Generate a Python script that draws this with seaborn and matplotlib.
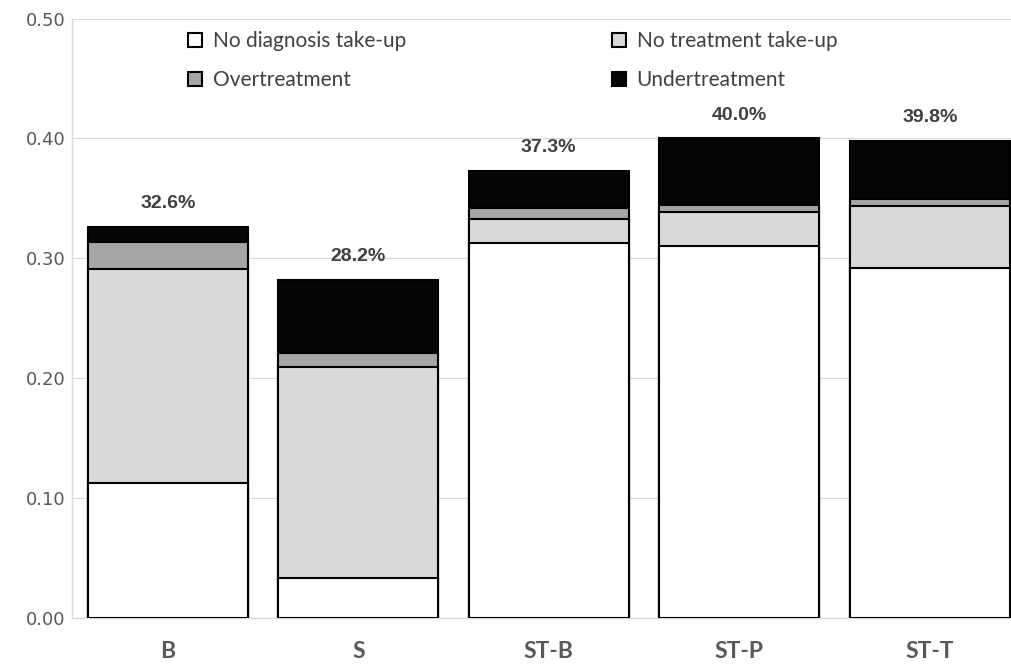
import matplotlib
matplotlib.use('Agg')
import matplotlib.pyplot as plt
from matplotlib.patches import Patch
import seaborn as sns
import pandas as pd
import numpy as np

# values
scenarios = ['B', 'S', 'ST-B', 'ST-P', 'ST-T']
no_diagnosis = [0.1125, 0.033, 0.313, 0.310, 0.2915]
no_treatment = [0.1788, 0.1765, 0.0196, 0.0283, 0.0523]
overtreatment = [0.0221, 0.0112, 0.0096, 0.0064, 0.0054]
undertreatment = [0.0126, 0.0613, 0.0308, 0.0553, 0.0488]

series_names = ['No diagnosis take-up', 'No treatment take-up', 'Overtreatment', 'Undertreatment']
series_colors = ['#ffffff', '#d9d9d9', '#a6a6a6', '#050505']

sns.set_theme(style='white')
plt.rcParams['font.family'] = ['Lato', 'DejaVu Sans']

df = pd.DataFrame({'scenario': scenarios,
                   'No diagnosis take-up': no_diagnosis,
                   'No treatment take-up': no_treatment,
                   'Overtreatment': overtreatment,
                   'Undertreatment': undertreatment})
# cumulative heights so the bars can be layered from the top down
cum = df[series_names].cumsum(axis=1)
cum['scenario'] = df['scenario']

fig = plt.figure(figsize=(10.11, 6.65), dpi=100)
ax = fig.add_axes([0.0717, 0.0711, 0.9283, 0.9009])

for name, color in reversed(list(zip(series_names, series_colors))):
    sns.barplot(data=cum, x='scenario', y=name, color=color, width=0.84,
                edgecolor='black', linewidth=1.5, saturation=1, ax=ax, zorder=3)

totals = cum['Undertreatment'].values
for i, t in enumerate(totals):
    ax.text(i, t + 0.0195, '{:.1%}'.format(t), ha='center', va='center',
            fontsize=14, fontweight='bold', color='#404040',
            family=['Liberation Sans', 'DejaVu Sans'])

ax.set_ylim(0, 0.5)
ax.set_xlim(-0.5, 4.4265)
ax.set_yticks(np.arange(0, 0.51, 0.1))
ax.set_yticklabels(['{:.2f}'.format(v) for v in np.arange(0, 0.51, 0.1)],
                   family=['DejaVu Sans'], fontsize=13, color='#595959')
ax.set_xlabel('')
ax.set_ylabel('')
ax.tick_params(axis='y', length=0, pad=4.8)
ax.tick_params(axis='x', length=0, pad=17)
for lab in ax.get_xticklabels():
    lab.set_fontweight('bold')
    lab.set_fontsize(16.5)
    lab.set_color('#595959')

ax.grid(axis='y', color='#d9d9d9', linewidth=0.8, zorder=0)
ax.set_axisbelow(True)
for s in ['top', 'right']:
    ax.spines[s].set_visible(False)
for s in ['left', 'bottom']:
    ax.spines[s].set_color('#d9d9d9')
    ax.spines[s].set_linewidth(1)

handles = [Patch(facecolor=c, edgecolor='black', linewidth=1.5) for c in series_colors]
order = [0, 2, 1, 3]
ax.legend([handles[i] for i in order], [series_names[i] for i in order],
          ncol=2, loc='upper left', bbox_to_anchor=(188 / 1011, 1 - 31 / 665),
          bbox_transform=fig.transFigure, frameon=False, fontsize=15,
          handlelength=0.68, handleheight=0.68, handletextpad=0.5,
          columnspacing=9.9, labelspacing=0.92, borderpad=0, borderaxespad=0,
          labelcolor='#404040')

fig.savefig('out.png', dpi=100)
